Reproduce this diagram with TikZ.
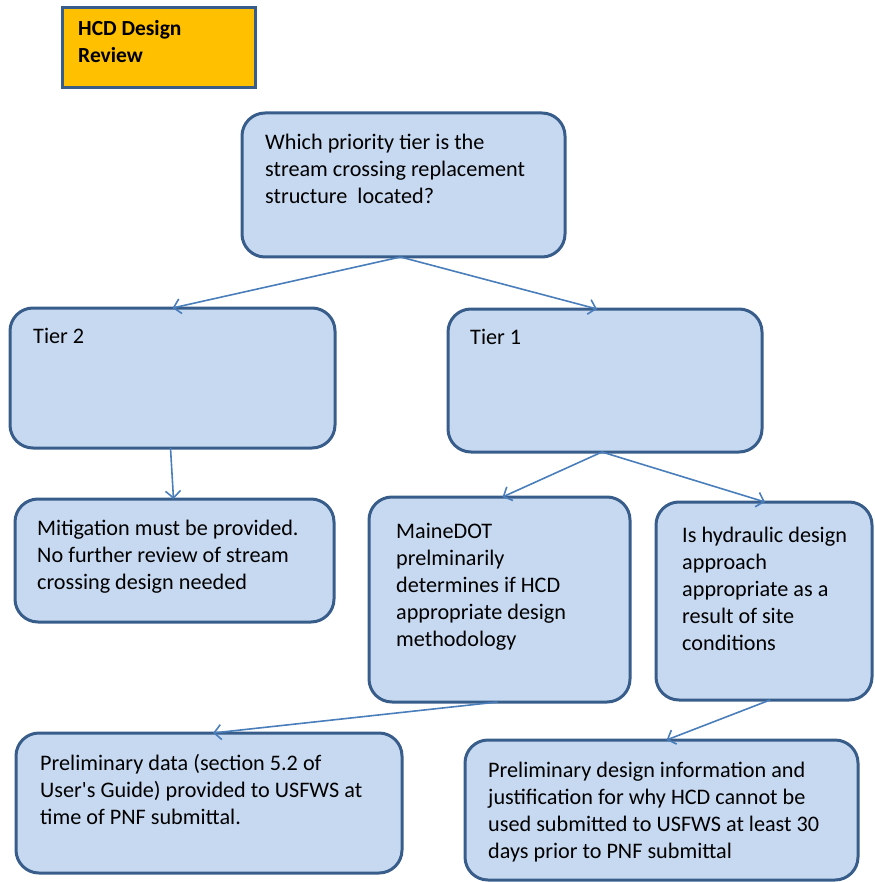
\documentclass[tikz,border=0pt]{standalone}
\usepackage{fontspec}
\setmainfont{Carlito}
\usetikzlibrary{arrows.meta}
\definecolor{bordc}{RGB}{56,93,138}
\definecolor{fillc}{RGB}{198,217,241}
\definecolor{arrc}{RGB}{74,126,187}
\definecolor{gold}{RGB}{255,192,0}
\tikzset{
 box/.style={draw=bordc, line width=3pt, fill=fillc, rounded corners=23pt, inner sep=0pt, outer sep=0pt},
 titlebox/.style={draw=bordc, line width=3pt, fill=gold, inner sep=0pt, outer sep=0pt},
 txt/.style={anchor=base west, align=left, inner sep=0pt, font=\fontsize{22.2}{27}\selectfont},
 conn/.style={draw=arrc, line width=1.6pt, -{Straight Barb[length=7pt,width=15pt]}}
}
\begin{document}
\begin{tikzpicture}[x=1pt,y=-1pt]
\useasboundingbox (0,0) rectangle (874,882);
% boxes
\node[titlebox, minimum width=193pt, minimum height=80pt] (hcd) at (158.5,47.5) {};
\node[box, minimum width=323pt, minimum height=144pt] (q) at (403.5,185) {};
\node[box, minimum width=325pt, minimum height=140pt] (t2) at (172.5,378) {};
\node[box, minimum width=314pt, minimum height=143pt] (t1) at (605,380.5) {};
\node[box, minimum width=319pt, minimum height=123pt] (mit) at (174.5,560.5) {};
\node[box, minimum width=261pt, minimum height=205pt] (mdot) at (499.5,599.5) {};
\node[box, minimum width=216pt, minimum height=198pt] (hyd) at (764,601) {};
\node[box, minimum width=386pt, minimum height=140pt] (pd) at (209,803) {};
\node[box, minimum width=393pt, minimum height=140pt] (pdes) at (661.5,810) {};
% texts (anchored at the baseline of the last line)
\node[txt, font=\fontsize{21.5}{27}\selectfont\bfseries] (hcdt) at (78,63) {HCD Design\\Review};
\node[txt] (qt) at (265,204) {Which priority tier is the\\stream crossing replacement\\structure\ \ located?};
\node[txt] (t2t) at (33,343) {Tier 2};
\node[txt] (t1t) at (470,344) {Tier 1};
\node[txt] (mitt) at (37,589) {Mitigation must be provided.\\No further review of stream\\crossing design needed};
\node[txt] (mdott) at (396,646) {MaineDOT\\prelminarily\\determines if HCD\\appropriate design\\methodology};
\node[txt] (hydt) at (682,650) {Is hydraulic design\\approach\\appropriate as a\\result of site\\conditions};
\node[txt] (pdt) at (40,824) {Preliminary data (section 5.2 of\\User\textquotesingle s Guide) provided to USFWS at\\time of PNF submittal.};
\node[txt] (pdest) at (488,858) {Preliminary design information and\\justification for why HCD cannot be\\used submitted to USFWS at least 30\\days prior to PNF submittal};
% connectors
\draw[conn] ([xshift=-3pt]q.south) -- (t2.north);
\draw[conn] ([xshift=-3pt]q.south) -- ([xshift=-8pt]t1.north);
\draw[conn] ([xshift=-2pt]t2.south) -- ([xshift=-1pt]mit.north);
\draw[conn] ([xshift=-3pt]t1.south) -- ([xshift=3pt]mdot.north);
\draw[conn] ([xshift=-3pt]t1.south) -- ([xshift=1pt]hyd.north);
\draw[conn] ([xshift=-2pt]mdot.south) -- ([xshift=4pt]pd.north);
\draw[conn] ([xshift=6pt]hyd.south) -- ([xshift=5pt]pdes.north);
\end{tikzpicture}
\end{document}
